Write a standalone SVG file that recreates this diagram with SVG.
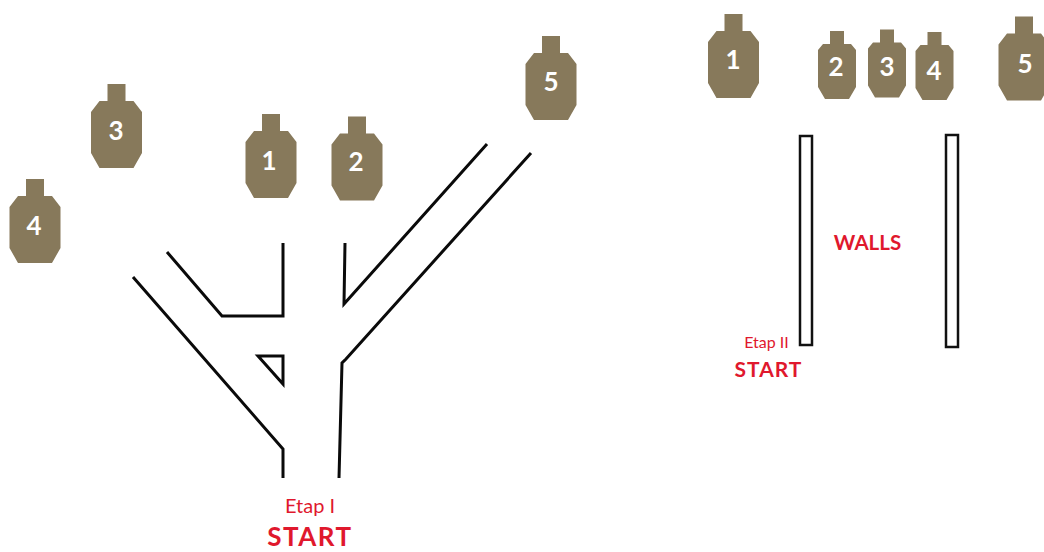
<svg xmlns="http://www.w3.org/2000/svg" width="1044" height="552" viewBox="0 0 1044 552">
<style>
.body{fill:#87795b}
.num{fill:#fff;font:bold 26px Lato,"Open Sans","Liberation Sans",sans-serif;text-anchor:middle}
.wall{fill:none;stroke:#0a0a0a;stroke-width:3;stroke-linecap:butt;stroke-linejoin:miter}
.rect{fill:#fff;stroke:#111;stroke-width:2.5}
.red{fill:#e0182d;font-family:Lato,"Open Sans","Liberation Sans",sans-serif;text-anchor:middle}
.b{font-weight:bold}
</style>
<defs>
<path id="t" d="M-9,-42H9V-25H17L25.500,-14V27L17,42H-17L-25.500,27V-14L-17,-25H-9Z"/>
<path id="s" d="M-7,-34H7V-21H14L19,-15V22L12,34H-12L-19,22V-15L-14,-21H-7Z"/>
</defs>
<rect width="1044" height="552" fill="#fff"/>
<g id="connectors">
<path class="wall" d="M133,277L283,449V478"/>
<path class="wall" d="M167,252L222,316H283V243"/>
<path class="wall" d="M258,356H283V384Z"/>
<path class="wall" d="M345,243L344,304L487,144"/>
<path class="wall" d="M531,153L346,359L342,363L339,478"/>
</g>
<g id="wall-left"><rect class="rect" x="800" y="136" width="12" height="209"/></g>
<g id="wall-right"><rect class="rect" x="946" y="135" width="12" height="212"/></g>
<g id="t1-1"><use href="#t" class="body" x="271" y="156"/><text class="num" x="269" y="170">1</text></g>
<g id="t1-2"><use href="#t" class="body" x="357" y="158.500"/><text class="num" x="356" y="171">2</text></g>
<g id="t1-3"><use href="#t" class="body" x="116.500" y="126"/><text class="num" x="116" y="140">3</text></g>
<g id="t1-4"><use href="#t" class="body" x="35" y="221"/><text class="num" x="34" y="235">4</text></g>
<g id="t1-5"><use href="#t" class="body" x="551" y="78"/><text class="num" x="551" y="91">5</text></g>
<g id="t2-1"><use href="#t" class="body" x="733.500" y="56"/><text class="num" x="733" y="69">1</text></g>
<g id="t2-2"><use href="#s" class="body" x="837" y="65"/><text class="num" x="836" y="76">2</text></g>
<g id="t2-3"><use href="#s" class="body" x="887" y="63.500"/><text class="num" x="887" y="76">3</text></g>
<g id="t2-4"><use href="#s" class="body" x="934.500" y="66"/><text class="num" x="934" y="80">4</text></g>
<g id="t2-5"><use href="#t" class="body" x="1024" y="58.500"/><text class="num" x="1025" y="73">5</text></g>
<text class="red" x="310" y="513" font-size="20">Etap I</text>
<text class="red b" x="310" y="546" font-size="26" letter-spacing="1.500">START</text>
<text class="red" x="766.500" y="348" font-size="16">Etap II</text>
<text class="red b" x="768.500" y="377" font-size="21" letter-spacing="1">START</text>
<text class="red b" x="867.500" y="250" font-size="20.500">WALLS</text>
</svg>
